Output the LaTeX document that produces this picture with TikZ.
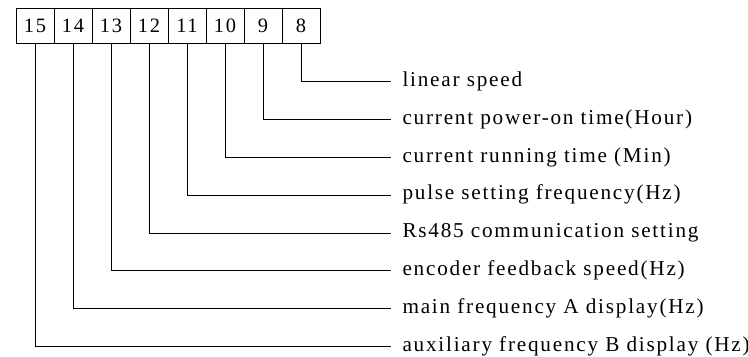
\documentclass[tikz,border=0pt]{standalone}
\usepackage{fontspec}
\setmainfont{Liberation Serif}[LetterSpace=8.4]
\usetikzlibrary{positioning}
\begin{document}
\begin{tikzpicture}[x=0.5pt,y=-0.5pt,line width=0.5pt,
  digitbox/.style={draw,minimum width=19pt,minimum height=17.5pt,inner sep=0pt,font=\fontsize{10.2}{12}\selectfont},
  itemlabel/.style={anchor=west,inner xsep=5.5pt,inner ysep=0pt,text height=1ex,text depth=0pt,font=\fontsize{10.6}{12}\selectfont}]
  \useasboundingbox (0,0) rectangle (748,357);
  % Boxes
  \foreach \n [count=\i from 0] in {15,14,...,8} {
    \node[digitbox] (b\n) at ({35+38*\i},25.8) {\n};
  }
  % Labels
  \foreach \n/\txt [count=\k from 0] in {8/{linear speed},
      9/{current power-on time(Hour)},
      10/{current running time (Min)},
      11/{pulse setting frequency(Hz)},
      12/{Rs485 communication setting},
      13/{encoder feedback speed(Hz)},
      14/{main frequency A display(Hz)},
      15/{auxiliary frequency B display (Hz)}} {
    \node[itemlabel] (l\n) at (391,{81.7+37.86*\k}) {\txt};
  }
  % Leaders
  \foreach \n in {8,...,15} {
    \draw (b\n.south) |- (l\n.west);
  }
\end{tikzpicture}
\end{document}
